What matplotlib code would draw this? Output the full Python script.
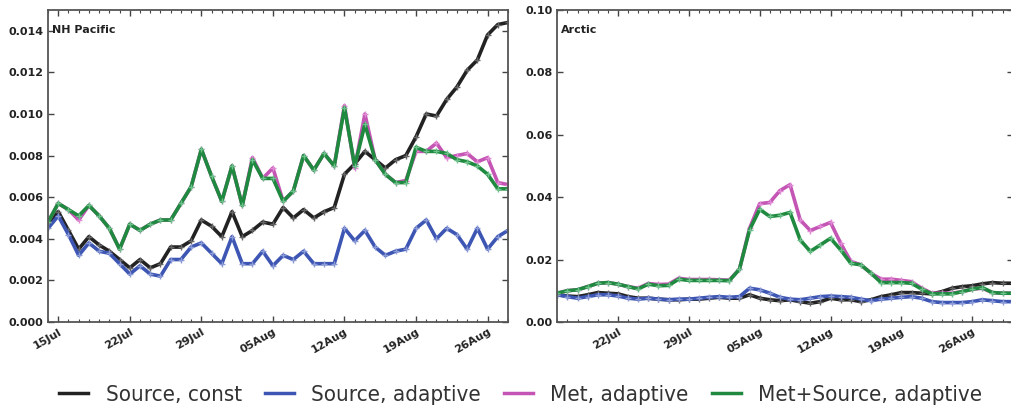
import matplotlib
matplotlib.use('Agg')
import matplotlib.pyplot as plt
import matplotlib.dates as mdates
from matplotlib.lines import Line2D
import pandas as pd

# NH Pacific, daily from 14 Jul to 28 Aug
pac_start = '2015-07-14'
pac_const = [0.0047, 0.0053, 0.0044, 0.0035, 0.0041, 0.0037, 0.0034, 0.0030, 0.0026, 0.0030,
             0.0026, 0.0028, 0.0036, 0.0036, 0.0039, 0.0049, 0.0046, 0.0041, 0.0053, 0.0041,
             0.0044, 0.0048, 0.0047, 0.0055, 0.0050, 0.0054, 0.0050, 0.0053, 0.0055, 0.0071,
             0.0076, 0.0082, 0.0078, 0.0074, 0.0078, 0.0080, 0.0089, 0.0100, 0.0099, 0.0107,
             0.0113, 0.0121, 0.0126, 0.0138, 0.0143, 0.0144]
pac_src = [0.0045, 0.0051, 0.0042, 0.0032, 0.0038, 0.0034, 0.0033, 0.0028, 0.0023, 0.0027,
           0.0023, 0.0022, 0.0030, 0.0030, 0.0036, 0.0038, 0.0033, 0.0028, 0.0041, 0.0028,
           0.0028, 0.0034, 0.0027, 0.0032, 0.0030, 0.0034, 0.0028, 0.0028, 0.0028, 0.0045,
           0.0039, 0.0044, 0.0036, 0.0032, 0.0034, 0.0035, 0.0045, 0.0049, 0.0040, 0.0045,
           0.0042, 0.0035, 0.0045, 0.0035, 0.0041, 0.0044]
pac_met = [0.0048, 0.0057, 0.0054, 0.0049, 0.0056, 0.0051, 0.0045, 0.0035, 0.0047, 0.0044,
           0.0047, 0.0049, 0.0049, 0.0057, 0.0065, 0.0083, 0.0070, 0.0058, 0.0075, 0.0056,
           0.0079, 0.0069, 0.0074, 0.0058, 0.0063, 0.0080, 0.0073, 0.0081, 0.0075, 0.0104,
           0.0074, 0.0100, 0.0078, 0.0071, 0.0067, 0.0068, 0.0082, 0.0082, 0.0086, 0.0079,
           0.0080, 0.0081, 0.0077, 0.0079, 0.0067, 0.0066]
pac_both = [0.0048, 0.0057, 0.0054, 0.0051, 0.0056, 0.0051, 0.0045, 0.0035, 0.0047, 0.0044,
            0.0047, 0.0049, 0.0049, 0.0057, 0.0065, 0.0083, 0.0070, 0.0058, 0.0075, 0.0056,
            0.0078, 0.0069, 0.0069, 0.0058, 0.0063, 0.0080, 0.0073, 0.0081, 0.0075, 0.0103,
            0.0075, 0.0095, 0.0078, 0.0071, 0.0067, 0.0067, 0.0084, 0.0082, 0.0082, 0.0081,
            0.0078, 0.0077, 0.0075, 0.0071, 0.0064, 0.0064]

# Arctic, daily from 16 Jul to 30 Aug
arc_start = '2015-07-16'
arc_const = [0.0087, 0.0083, 0.0081, 0.0087, 0.0094, 0.0092, 0.0090, 0.0081, 0.0076, 0.0076,
             0.0073, 0.0071, 0.0071, 0.0073, 0.0073, 0.0076, 0.0079, 0.0076, 0.0076, 0.0087,
             0.0076, 0.0071, 0.0068, 0.0071, 0.0065, 0.0060, 0.0065, 0.0076, 0.0071, 0.0071,
             0.0065, 0.0071, 0.0081, 0.0087, 0.0094, 0.0094, 0.0092, 0.0090, 0.0097, 0.0108,
             0.0113, 0.0116, 0.0122, 0.0126, 0.0124, 0.0124]
arc_src = [0.0087, 0.0081, 0.0076, 0.0081, 0.0087, 0.0087, 0.0083, 0.0076, 0.0073, 0.0076,
           0.0073, 0.0071, 0.0073, 0.0073, 0.0076, 0.0079, 0.0081, 0.0079, 0.0081, 0.0108,
           0.0103, 0.0092, 0.0079, 0.0073, 0.0071, 0.0076, 0.0081, 0.0083, 0.0081, 0.0079,
           0.0073, 0.0068, 0.0073, 0.0076, 0.0079, 0.0081, 0.0076, 0.0065, 0.0062, 0.0062,
           0.0062, 0.0065, 0.0071, 0.0068, 0.0065, 0.0065]
arc_met = [0.0092, 0.0100, 0.0103, 0.0113, 0.0124, 0.0126, 0.0121, 0.0113, 0.0108, 0.0123,
           0.0120, 0.0121, 0.0140, 0.0136, 0.0136, 0.0136, 0.0135, 0.0134, 0.0169, 0.0300,
           0.0379, 0.0383, 0.0421, 0.0440, 0.0327, 0.0293, 0.0306, 0.0319, 0.0252, 0.0194,
           0.0183, 0.0156, 0.0137, 0.0137, 0.0133, 0.0129, 0.0108, 0.0092, 0.0092, 0.0092,
           0.0097, 0.0105, 0.0108, 0.0094, 0.0092, 0.0092]
arc_both = [0.0092, 0.0100, 0.0103, 0.0113, 0.0124, 0.0126, 0.0121, 0.0113, 0.0106, 0.0121,
            0.0116, 0.0117, 0.0137, 0.0133, 0.0133, 0.0133, 0.0133, 0.0132, 0.0169, 0.0295,
            0.0361, 0.0338, 0.0342, 0.0351, 0.0263, 0.0226, 0.0247, 0.0268, 0.0231, 0.0188,
            0.0183, 0.0156, 0.0126, 0.0126, 0.0126, 0.0124, 0.0105, 0.0090, 0.0090, 0.0090,
            0.0097, 0.0105, 0.0110, 0.0094, 0.0092, 0.0092]

labels = ['Source, const', 'Source, adaptive', 'Met, adaptive', 'Met+Source, adaptive']
colors = ['#222222', '#3d55b3', '#c455b4', '#1f8a3f']
marker_colors = ['#666666', '#8a9ad6', '#e08ad6', '#6cc08a']
tick_days = ['2015-07-15', '2015-07-22', '2015-07-29', '2015-08-05',
             '2015-08-12', '2015-08-19', '2015-08-26']


def panel(ax, start, series, title, ymax, ystep, yfmt):
    dates = pd.date_range(start, periods=len(series[0]), freq='D')
    for vals, c, mc, lab in zip(series, colors, marker_colors, labels):
        ax.plot(dates, vals, color=c, lw=2.6, marker='+', ms=4.5,
                mew=1.0, mec=mc, label=lab)
    nticks = int(ymax / ystep + 1e-9)
    ax.set_yticks([i * ystep for i in range(nticks + 1)])
    ax.yaxis.set_major_formatter(plt.FormatStrFormatter(yfmt))
    ticks = [d for d in pd.to_datetime(tick_days) if dates[0] <= d <= dates[-1]]
    ax.set_xticks(ticks)
    ax.xaxis.set_major_formatter(mdates.DateFormatter('%d%b'))
    ax.xaxis.set_minor_locator(mdates.DayLocator())
    ax.set_xlim(dates[0], dates[-1])
    ax.set_ylim(0, ymax)
    ax.tick_params(which='both', direction='in', top=True, right=True,
                   color='#444444')
    ax.tick_params(which='major', length=4, width=1)
    ax.tick_params(which='minor', length=2, width=0.8)
    for lab in ax.get_xticklabels():
        lab.set_rotation(30)
        lab.set_ha('right')
        lab.set_rotation_mode('anchor')
    for lab in ax.get_xticklabels() + ax.get_yticklabels():
        lab.set_fontsize(8)
        lab.set_fontweight('bold')
        lab.set_color('#222222')
    for sp in ax.spines.values():
        sp.set_color('#555555')
        sp.set_linewidth(1.3)
    ax.text(0.008, 0.935, title, transform=ax.transAxes, fontsize=8,
            fontweight='bold', color='#222222', va='center')


fig = plt.figure(figsize=(10.11, 4.08), dpi=100)
ax1 = fig.add_axes([0.0475, 0.211, 0.455, 0.7645])
ax2 = fig.add_axes([0.5512, 0.211, 0.4505, 0.7645])

panel(ax1, pac_start, [pac_const, pac_src, pac_met, pac_both],
      'NH Pacific', 0.015, 0.002, '%.3f')
panel(ax2, arc_start, [arc_const, arc_src, arc_met, arc_both],
      'Arctic', 0.10, 0.02, '%.2f')

# legend shows plain line segments
handles = [Line2D([], [], color=c, lw=2.5) for c in colors]
leg = fig.legend(handles, labels, loc='center', bbox_to_anchor=(0.515, 0.032),
                 ncol=4, frameon=False, handlelength=1.3,
                 handletextpad=0.78, columnspacing=1.04,
                 prop={'family': 'DejaVu Sans', 'stretch': 'condensed', 'size': 16})
for t in leg.get_texts():
    t.set_color('#333333')

fig.savefig('out.png', dpi=100)
